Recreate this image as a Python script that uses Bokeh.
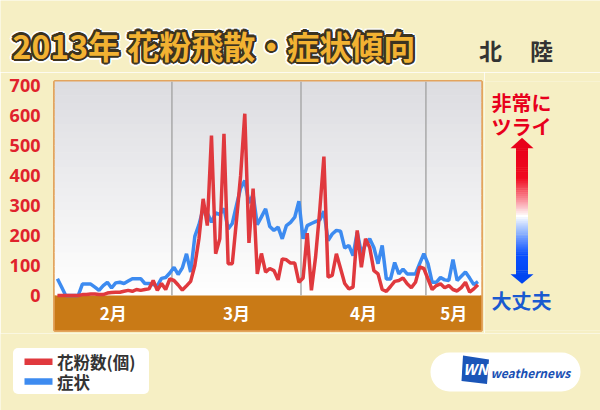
import math
import numpy as np
from bokeh.plotting import figure
from bokeh.layouts import column, row
from bokeh.models import (Range1d, FixedTicker, BoxAnnotation, Label, PolyAnnotation)
from bokeh.core.properties import value
from bokeh.embed import file_html
from bokeh.resources import INLINE

# ---------------- data ----------------
month_names = ["2月", "3月", "4月", "5月"]
month_days = [28, 31, 30, 31]
series_names = ["花粉数(個)", "症状"]
y_ticks = [0, 100, 200, 300, 400, 500, 600, 700]

# daily values from Feb 1
pollen = [0, 0, 0, 0, 0, 0,
          3, 3, 5, 5, 3, 3,
          8, 10, 11, 11, 14, 17,
          14, 20, 17, 20, 22, 50,
          17, 40, 20, 55, 50, 35,
          18, 32, 47, 100, 190, 322,
          233, 533, 139, 189, 539, 106,
          106, 250, 400, 606, 175, 356,
          72, 140, 78, 90, 83, 52,
          122, 119, 108, 108, 44, 58,
          208, 17, 128, 283, 463, 61,
          67, 139, 90, 40, 22, 28,
          217, 94, 189, 160, 83, 72,
          20, 14, 30, 47, 50, 58,
          39, 26, 44, 95, 90, 55,
          20, 33, 39, 26, 33, 20,
          15, 26, 44, 11, 22, 36]

symptom = [56, 28, 0, 0, 0, 0,
           38, 38, 38, 28, 17, 33,
           44, 25, 42, 44, 40, 48,
           56, 56, 56, 40, 40, 36,
           32, 57, 60, 75, 94, 70,
           92, 139, 78, 197, 236, 289,
           275, 244, 275, 270, 290, 222,
           240, 300, 358, 383, 308, 336,
           236, 262, 289, 230, 217, 228,
           189, 233, 244, 261, 314, 189,
           233, 240, 246, 252, 281, 183,
           205, 217, 214, 158, 167, 133,
           211, 141, 170, 189, 160, 106,
           167, 55, 55, 110, 72, 88,
           72, 72, 72, 106, 139, 106,
           44, 44, 60, 52, 50, 120,
           50, 64, 78, 58, 36, 46]

days = list(range(len(pollen)))

# ---------------- layout constants ----------------
FONT = "Noto Sans CJK JP"
BG = "#f6efc4"
RED = "#e0393e"
BLUE = "#3d8bf0"
X0, X1 = -0.7, 101.85
Y0, Y1 = -116.7, 713.3
TOP_H = 72
MAIN_BT = 81 - TOP_H
MAIN_H = MAIN_BT + 249 + 3
MAIN_W = 484


def mix(c1, c2, t):
    return "#%02x%02x%02x" % tuple(int(round(a + (b - a) * t)) for a, b in zip(c1, c2))


def deco_fig(w, h, x0, y0):
    f = figure(width=w, height=h, output_backend="svg", toolbar_location=None,
               x_range=Range1d(x0, x0 + w), y_range=Range1d(y0 + h, y0),
               x_axis_location=None, y_axis_location=None, min_border=0,
               min_border_left=0, min_border_right=0, min_border_top=0,
               min_border_bottom=0)
    f.grid.visible = False
    f.outline_line_color = None
    f.border_fill_color = BG
    f.background_fill_color = BG
    return f


def lab(f, x, y, text, **kw):
    f.add_layout(Label(x=x, y=y, text=text, text_font=FONT,
                       text_baseline="middle", **kw))


def rect(f, l, t, r, b, color, **kw):
    f.add_layout(BoxAnnotation(left=l, right=r, top=t, bottom=b, fill_color=color,
                               fill_alpha=1, line_color=None, **kw))


# ================= main chart =================
p = figure(width=MAIN_W, height=MAIN_H, output_backend="svg", toolbar_location=None,
           x_range=Range1d(X0, X1), y_range=Range1d(Y0, Y1),
           x_axis_location=None,
           min_border_left=54, min_border_right=3,
           min_border_top=MAIN_BT, min_border_bottom=3)
p.grid.visible = False
p.border_fill_color = BG
p.background_fill_color = "#ffffff"
p.outline_line_color = "#e3a45e"
p.outline_line_width = 3

ax = p.yaxis[0]
ax.ticker = FixedTicker(ticks=y_ticks)
ax.axis_line_color = None
ax.major_tick_line_color = None
ax.minor_tick_line_color = None
ax.major_label_standoff = 8
ax.major_label_text_color = "#e0222c"
ax.major_label_text_font = "Noto Sans"
ax.major_label_text_font_style = "bold"
ax.major_label_text_font_size = "18px"

# frame background gradient (grey top -> white bottom)
n = 30
for k in range(n):
    b = Y1 * k / n
    t = Y1 * (k + 1) / n + 2
    col = mix((255, 255, 255), (220, 220, 224), (k + 0.5) / n)
    p.add_layout(BoxAnnotation(bottom=b, top=t, fill_color=col, fill_alpha=1,
                               line_color=None, level="underlay"))

# orange month band
p.add_layout(BoxAnnotation(top=0, fill_color="#c97a16", fill_alpha=1,
                           line_color=None, level="underlay"))

# month separators and labels
bounds = list(np.cumsum(month_days)[:-1] - 0.5)
starts = [X0] + bounds
ends = bounds + [X1]
mids = [(s + e) / 2 for s, e in zip(starts, ends)]
p.segment(x0=bounds, y0=0, x1=bounds, y1=Y1, line_color="#a9a9a9", line_width=1.5)
p.text(x=mids, y=[-58] * len(mids), text=month_names, text_color="white",
       text_font=value(FONT), text_font_style="bold", text_font_size="17px",
       text_align="center", text_baseline="middle")

# series
p.line(days, symptom, line_color=BLUE, line_width=3.5)
p.line(days, pollen, line_color=RED, line_width=3.5)

# ================= title strip =================
top = deco_fig(600, TOP_H, 0, 0)
title = "2013年 花粉飛散・症状傾向"
tx, ty = 12, 44
for r, col in [(4.0, "#ffffff"), (2.2, "#3b3320")]:
    for a in range(0, 360, 30):
        lab(top, tx + r * math.cos(math.radians(a)), ty + r * math.sin(math.radians(a)),
            title, text_color=col, text_font_size="32px", text_font_style="bold",
            text_align="left")
lab(top, tx, ty, title, text_color="#f2b232", text_font_size="32px",
    text_font_style="bold", text_align="left")
lab(top, 490, 49, "北", text_color="#333333", text_font_size="23px",
    text_font_style="bold", text_align="center")
lab(top, 541, 49, "陸", text_color="#333333", text_font_size="23px",
    text_font_style="bold", text_align="center")

# ================= right strip (scale arrow) =================
rt = deco_fig(600 - MAIN_W, MAIN_H, MAIN_W, TOP_H)
lab(rt, 521, 94, "非常に", text_color="#e8001c", text_font_size="20px",
    text_font_style="bold", text_align="center")
lab(rt, 521, 119, "ツライ", text_color="#e8001c", text_font_size="20px",
    text_font_style="bold", text_align="center")
lab(rt, 521, 302, "大丈夫", text_color="#1a5ad0", text_font_size="20px",
    text_font_style="bold", text_align="center")

stops = [(140, (232, 0, 26)), (172, (240, 10, 30)), (196, (250, 150, 160)),
         (212, (255, 255, 255)), (228, (150, 185, 255)), (252, (10, 80, 255)),
         (276, (0, 70, 240))]
yy = 140
while yy < 276:
    for (y1, c1), (y2, c2) in zip(stops[:-1], stops[1:]):
        if y1 <= yy < y2:
            col = mix(c1, c2, (yy - y1) / (y2 - y1))
            break
    rect(rt, 515.5, yy, 527.5, yy + 2.5, col)
    yy += 2
rt.add_layout(PolyAnnotation(xs=[521.5, 510, 533], ys=[131, 142, 142],
                             fill_color="#e8001a", fill_alpha=1, line_color=None))
rt.add_layout(PolyAnnotation(xs=[521.5, 510, 533], ys=[284, 274, 274],
                             fill_color="#0046f0", fill_alpha=1, line_color=None))

# ================= bottom strip (legend + logo) =================
BOT_Y = TOP_H + MAIN_H
bt = deco_fig(600, 410 - BOT_Y, 0, BOT_Y)
rect(bt, 12.5, 347.5, 148.5, 393.5, "white", border_radius=5)
for name, color, yc in [(series_names[0], RED, 361.2), (series_names[1], BLUE, 381)]:
    rect(bt, 24, yc - 3.2, 52, yc + 3.2, color)
    lab(bt, 56.5, yc + 0.3, name, text_color="#333333", text_font_size="16.5px",
        text_font_style="bold", text_align="left")

rect(bt, 430, 352, 580, 391, "white", border_radius=19)
bt.add_layout(PolyAnnotation(xs=[462.5, 488.5, 486.5, 461], ys=[355, 359, 383.5, 380.5],
                             fill_color="#1a55b8", fill_alpha=1, line_color=None))
lab(bt, 475, 368, "WN", text_color="white", text_font_size="15px",
    text_font_style="bold italic", text_align="center")
lab(bt, 490, 372, "weathernews", text_color="#1a50b4", text_font_size="12px",
    text_font_style="bold italic", text_align="left")

page = column(top, row(p, rt, spacing=0), bt, spacing=0)
open("out.html", "w").write(file_html(page, INLINE))
